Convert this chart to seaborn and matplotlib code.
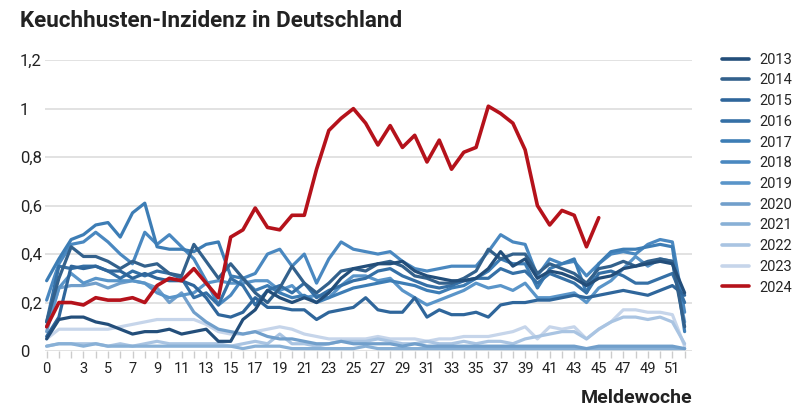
import numpy as np
import pandas as pd
import matplotlib
matplotlib.use("Agg")
import matplotlib.pyplot as plt
import seaborn as sns
from matplotlib.ticker import FixedLocator, FuncFormatter
from matplotlib.lines import Line2D

weeks = list(range(53))
years = ["2013", "2014", "2015", "2016", "2017", "2018", "2019", "2020", "2021", "2022", "2023", "2024"]

y2013 = [0.05, 0.13, 0.14, 0.14, 0.12, 0.11, 0.09, 0.07, 0.08, 0.08, 0.09, 0.07, 0.08, 0.09, 0.04, 0.04, 0.13, 0.17, 0.25, 0.22, 0.20, 0.22, 0.20, 0.24, 0.30, 0.34, 0.35, 0.36, 0.36, 0.37, 0.33, 0.31, 0.30, 0.29, 0.29, 0.30, 0.34, 0.41, 0.35, 0.38, 0.30, 0.33, 0.32, 0.30, 0.27, 0.30, 0.31, 0.34, 0.35, 0.36, 0.37, 0.36, 0.24]
y2014 = [0.12, 0.30, 0.43, 0.39, 0.39, 0.37, 0.34, 0.37, 0.35, 0.36, 0.32, 0.31, 0.44, 0.37, 0.30, 0.36, 0.30, 0.24, 0.20, 0.26, 0.35, 0.28, 0.24, 0.28, 0.33, 0.34, 0.33, 0.36, 0.37, 0.35, 0.31, 0.30, 0.28, 0.28, 0.30, 0.33, 0.42, 0.38, 0.40, 0.40, 0.32, 0.36, 0.34, 0.32, 0.28, 0.34, 0.35, 0.37, 0.35, 0.37, 0.38, 0.37, 0.10]
y2015 = [0.06, 0.14, 0.35, 0.34, 0.35, 0.33, 0.33, 0.30, 0.32, 0.30, 0.29, 0.29, 0.27, 0.22, 0.15, 0.14, 0.16, 0.22, 0.18, 0.18, 0.17, 0.17, 0.13, 0.16, 0.17, 0.18, 0.22, 0.17, 0.16, 0.16, 0.22, 0.14, 0.17, 0.15, 0.15, 0.16, 0.14, 0.19, 0.20, 0.20, 0.21, 0.21, 0.22, 0.23, 0.22, 0.23, 0.24, 0.25, 0.24, 0.23, 0.25, 0.27, 0.23]
y2016 = [0.12, 0.35, 0.34, 0.35, 0.35, 0.33, 0.30, 0.33, 0.31, 0.33, 0.32, 0.30, 0.22, 0.24, 0.19, 0.30, 0.27, 0.19, 0.25, 0.27, 0.24, 0.28, 0.22, 0.25, 0.27, 0.29, 0.30, 0.33, 0.34, 0.31, 0.29, 0.27, 0.26, 0.27, 0.29, 0.30, 0.30, 0.34, 0.32, 0.33, 0.28, 0.32, 0.30, 0.28, 0.24, 0.32, 0.33, 0.31, 0.28, 0.28, 0.30, 0.32, 0.20]
y2017 = [0.29, 0.38, 0.46, 0.48, 0.52, 0.53, 0.47, 0.57, 0.61, 0.43, 0.42, 0.42, 0.41, 0.44, 0.45, 0.31, 0.30, 0.25, 0.27, 0.24, 0.22, 0.23, 0.20, 0.22, 0.24, 0.26, 0.27, 0.28, 0.29, 0.28, 0.27, 0.25, 0.24, 0.26, 0.27, 0.30, 0.33, 0.38, 0.36, 0.36, 0.26, 0.34, 0.36, 0.38, 0.24, 0.36, 0.41, 0.42, 0.42, 0.43, 0.44, 0.43, 0.08]
y2018 = [0.21, 0.36, 0.44, 0.45, 0.49, 0.45, 0.40, 0.36, 0.49, 0.44, 0.48, 0.43, 0.38, 0.29, 0.19, 0.23, 0.30, 0.32, 0.40, 0.42, 0.35, 0.40, 0.28, 0.38, 0.45, 0.42, 0.41, 0.40, 0.41, 0.37, 0.34, 0.33, 0.34, 0.35, 0.35, 0.35, 0.41, 0.48, 0.45, 0.44, 0.31, 0.38, 0.36, 0.37, 0.31, 0.36, 0.40, 0.41, 0.40, 0.44, 0.46, 0.45, 0.16]
y2019 = [0.10, 0.26, 0.32, 0.28, 0.30, 0.29, 0.29, 0.29, 0.28, 0.24, 0.22, 0.23, 0.24, 0.28, 0.29, 0.28, 0.28, 0.29, 0.29, 0.25, 0.27, 0.22, 0.23, 0.22, 0.27, 0.31, 0.31, 0.29, 0.30, 0.25, 0.22, 0.19, 0.21, 0.23, 0.25, 0.28, 0.26, 0.27, 0.25, 0.28, 0.22, 0.22, 0.23, 0.24, 0.20, 0.26, 0.29, 0.34, 0.39, 0.35, 0.38, 0.37, 0.12]
y2020 = [0.08, 0.26, 0.27, 0.27, 0.28, 0.26, 0.28, 0.29, 0.28, 0.26, 0.20, 0.24, 0.16, 0.12, 0.09, 0.08, 0.07, 0.08, 0.06, 0.05, 0.05, 0.04, 0.03, 0.03, 0.04, 0.03, 0.03, 0.03, 0.03, 0.02, 0.03, 0.02, 0.02, 0.02, 0.02, 0.02, 0.02, 0.02, 0.02, 0.02, 0.02, 0.02, 0.02, 0.02, 0.01, 0.02, 0.02, 0.02, 0.02, 0.02, 0.02, 0.02, 0.01]
y2021 = [0.02, 0.03, 0.03, 0.02, 0.03, 0.02, 0.02, 0.02, 0.02, 0.02, 0.02, 0.02, 0.02, 0.02, 0.02, 0.02, 0.01, 0.02, 0.02, 0.02, 0.01, 0.01, 0.01, 0.01, 0.01, 0.01, 0.02, 0.01, 0.01, 0.01, 0.01, 0.01, 0.01, 0.01, 0.01, 0.01, 0.01, 0.01, 0.01, 0.01, 0.01, 0.01, 0.01, 0.01, 0.01, 0.01, 0.01, 0.01, 0.01, 0.01, 0.01, 0.01, 0.01]
y2022 = [0.02, 0.03, 0.03, 0.03, 0.03, 0.02, 0.03, 0.02, 0.03, 0.04, 0.03, 0.03, 0.03, 0.03, 0.03, 0.02, 0.03, 0.04, 0.03, 0.07, 0.03, 0.03, 0.02, 0.03, 0.04, 0.04, 0.04, 0.05, 0.04, 0.03, 0.03, 0.04, 0.03, 0.03, 0.04, 0.03, 0.04, 0.04, 0.03, 0.05, 0.06, 0.07, 0.08, 0.08, 0.05, 0.09, 0.12, 0.14, 0.14, 0.13, 0.14, 0.12, 0.03]
y2023 = [0.05, 0.09, 0.09, 0.09, 0.09, 0.09, 0.10, 0.11, 0.12, 0.13, 0.13, 0.13, 0.13, 0.11, 0.08, 0.07, 0.07, 0.08, 0.09, 0.10, 0.09, 0.07, 0.06, 0.05, 0.05, 0.05, 0.05, 0.06, 0.05, 0.05, 0.05, 0.04, 0.05, 0.05, 0.06, 0.06, 0.06, 0.07, 0.08, 0.10, 0.05, 0.10, 0.09, 0.10, 0.05, 0.09, 0.12, 0.17, 0.17, 0.16, 0.16, 0.15, 0.02]
y2024 = [0.10, 0.20, 0.20, 0.19, 0.22, 0.21, 0.21, 0.22, 0.20, 0.27, 0.30, 0.29, 0.34, 0.28, 0.22, 0.47, 0.50, 0.59, 0.51, 0.50, 0.56, 0.56, 0.75, 0.91, 0.96, 1.00, 0.94, 0.85, 0.93, 0.84, 0.89, 0.78, 0.87, 0.75, 0.82, 0.84, 1.01, 0.98, 0.94, 0.83, 0.60, 0.52, 0.58, 0.56, 0.43, 0.55]

series = [y2013, y2014, y2015, y2016, y2017, y2018, y2019, y2020, y2021, y2022, y2023, y2024]
xtick_labels = [0, 3, 5, 7, 9, 11, 13, 15, 17, 19, 21, 23, 25, 27, 29, 31, 33, 35, 37, 39, 41, 43, 45, 47, 49, 51]

colors = ["#234e7a", "#33618c", "#2f669b", "#3570a6", "#3d7db5", "#4a88c0", "#5a95c9",
          "#719fcb", "#88b0d6", "#a9c4e2", "#c6d5ea", "#b5121b"]
palette = dict(zip(years, colors))

rows = []
for yr, vals in zip(years, series):
    for w, v in zip(weeks, vals):
        rows.append({"Woche": w, "Inzidenz": v, "Jahr": yr})
df = pd.DataFrame(rows)

sns.set_style("white")
plt.rcParams["font.family"] = ["Roboto", "DejaVu Sans"]

fig = plt.figure(figsize=(8, 4.12), dpi=100)
ax = fig.add_axes([0.056, 0.148, 0.809, 0.706])

sns.lineplot(data=df[df.Jahr != "2024"], x="Woche", y="Inzidenz", hue="Jahr",
             hue_order=years[:-1][::-1], palette=palette, linewidth=2.3, ax=ax,
             legend=False, estimator=None, sort=False)
sns.lineplot(data=df[df.Jahr == "2024"], x="Woche", y="Inzidenz", hue="Jahr",
             palette=palette, linewidth=2.6, ax=ax, legend=False, estimator=None, sort=False)

ax.set_xlim(-0.15, 52.6)
ax.set_ylim(0, 1.2)
ax.set_yticks([0, 0.2, 0.4, 0.6, 0.8, 1.0, 1.2])
ax.yaxis.set_major_formatter(FuncFormatter(lambda v, p: ("%g" % round(v, 1)).replace(".", ",")))
ax.grid(axis="y", color="#dddddd", linewidth=1.2)
ax.grid(axis="x", visible=False)
for s in ax.spines.values():
    s.set_visible(False)
ax.xaxis.set_major_locator(FixedLocator(xtick_labels))
ax.xaxis.set_minor_locator(FixedLocator(weeks))
ax.tick_params(axis="x", which="both", length=5, color="#cccccc", width=1, labelsize=10.5,
               labelcolor="#222222", pad=3, bottom=True)
ax.tick_params(axis="y", length=0, labelsize=12, labelcolor="#222222", pad=18)
for lab in ax.get_yticklabels():
    lab.set_horizontalalignment("left")
ax.set_xlabel("")
ax.set_ylabel("")

fig.text(0.025, 0.95, "Keuchhusten-Inzidenz in Deutschland", fontsize=16.2, fontweight="bold",
         color="#222222", va="center", ha="left")
fig.text(0.865, 0.035, "Meldewoche", fontsize=14, fontweight="bold", color="#222222",
         ha="right", va="center")

handles = [Line2D([0], [0], color=palette[y], linewidth=2.6) for y in years]
leg = fig.legend(handles, years, loc="upper left", bbox_to_anchor=(0.903, 0.872),
                 frameon=False, fontsize=10.5, handlelength=1.8, handletextpad=0.75,
                 labelspacing=0.46, borderaxespad=0, borderpad=0)

fig.savefig("out.png", dpi=100)
